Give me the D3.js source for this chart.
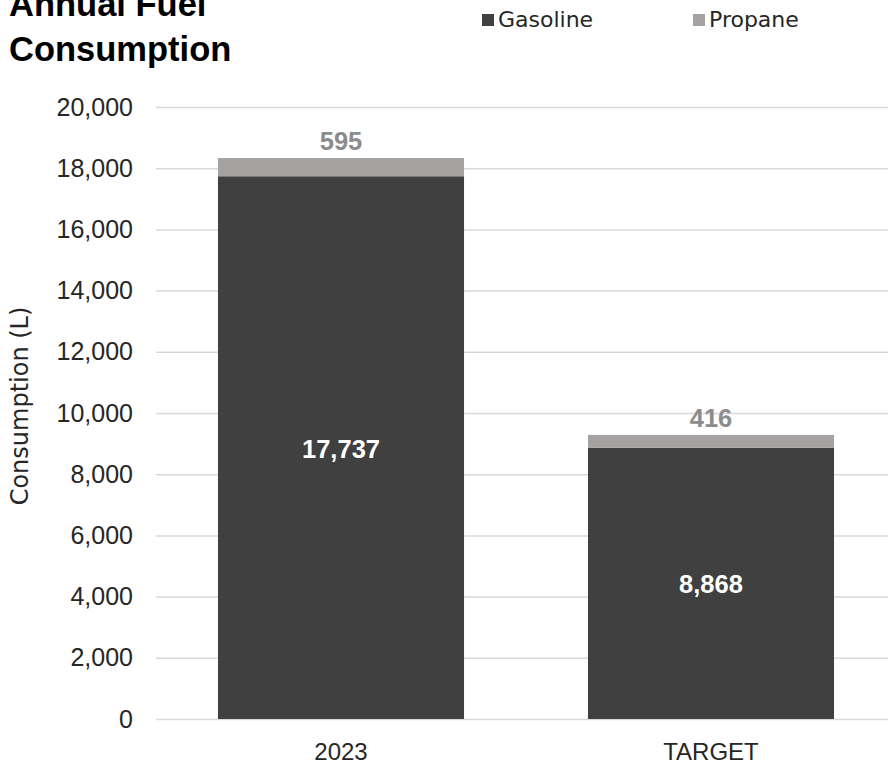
<!DOCTYPE html>
<html>
<head>
<meta charset="utf-8">
<script src="https://cdn.jsdelivr.net/npm/d3@7"></script>
<style>
  html, body { margin: 0; padding: 0; background: #fff; }
  svg { display: block; }
</style>
</head>
<body>
<svg id="chart" width="888" height="766"></svg>
<script>
// Annual fuel consumption, stacked by fuel type
const categories = ["2023", "TARGET"];
const gasoline = [17737, 8868];
const propane = [595, 416];
const seriesNames = ["Gasoline", "Propane"];
const yTicks = [0, 2000, 4000, 6000, 8000, 10000, 12000, 14000, 16000, 18000, 20000];

const colors = { Gasoline: "#404040", Propane: "#a6a2a2" };
const W = 888, H = 766;
const plot = { left: 156, right: 896, top: 107, bottom: 719 };

const svg = d3.select("#chart");

const rows = categories.map((c, i) => ({ cat: c, Gasoline: gasoline[i], Propane: propane[i] }));
const stacked = d3.stack().keys(seriesNames)(rows);

const y = d3.scaleLinear().domain([0, 20000]).range([plot.bottom, plot.top]);
const x = d3.scaleBand().domain(categories)
  .range([plot.left, plot.right])
  .paddingInner(0.335).paddingOuter(0.1675);

// Horizontal gridlines and value axis labels
const yAxis = d3.axisLeft(y).tickValues(yTicks).tickSize(0).tickPadding(0)
  .tickFormat(d3.format(","));
const gy = svg.append("g").attr("transform", `translate(${plot.left},0)`).call(yAxis);
gy.select(".domain").remove();
gy.selectAll(".tick line").attr("x1", 0).attr("x2", W - plot.left)
  .attr("stroke", "#d9d9d9").attr("stroke-width", 1.5);
gy.selectAll(".tick text")
  .attr("x", -23)
  .attr("font-family", "'Liberation Sans', Arial, sans-serif")
  .attr("font-size", 25).attr("fill", "#262626");

// Category axis labels
const gx = svg.append("g").attr("transform", `translate(0,${plot.bottom})`)
  .call(d3.axisBottom(x).tickSize(0).tickPadding(0));
gx.select(".domain").remove();
gx.selectAll(".tick text")
  .attr("y", 41).attr("dy", 0)
  .attr("font-family", "'Liberation Sans', Arial, sans-serif")
  .attr("font-size", 24).attr("fill", "#262626");

// Stacked bars
svg.append("g").selectAll("g").data(stacked).join("g")
  .attr("fill", d => colors[d.key])
  .selectAll("rect").data(d => d).join("rect")
  .attr("x", d => x(d.data.cat))
  .attr("width", x.bandwidth())
  .attr("y", d => y(d[1]))
  .attr("height", d => y(d[0]) - y(d[1]));

// Value labels
const fmt = d3.format(",");
svg.append("g").selectAll("text").data(stacked[0]).join("text")
  .attr("x", d => x(d.data.cat) + x.bandwidth() / 2)
  .attr("y", d => (y(d[0]) + y(d[1])) / 2 + 1)
  .attr("text-anchor", "middle").attr("dominant-baseline", "central")
  .attr("font-family", "'Liberation Sans', Arial, sans-serif")
  .attr("font-weight", "bold").attr("font-size", 25.5).attr("fill", "#ffffff")
  .text(d => fmt(d.data.Gasoline));

svg.append("g").selectAll("text").data(stacked[1]).join("text")
  .attr("x", d => x(d.data.cat) + x.bandwidth() / 2)
  .attr("y", d => y(d[1]) - 8)
  .attr("text-anchor", "middle")
  .attr("font-family", "'Liberation Sans', Arial, sans-serif")
  .attr("font-weight", "bold").attr("font-size", 25.5).attr("fill", "#8c8c8c")
  .text(d => fmt(d.data.Propane));

// Value axis title
svg.append("text")
  .attr("transform", "translate(28,406) rotate(-90)")
  .attr("text-anchor", "middle")
  .attr("font-family", "'DejaVu Sans', sans-serif")
  .attr("font-size", 24).attr("fill", "#262626")
  .text("Consumption (L)");

// Chart title
const title = svg.append("text")
  .attr("font-family", "'Liberation Sans', Arial, sans-serif")
  .attr("font-weight", "bold").attr("font-size", 34.5).attr("fill", "#000");
title.append("tspan").attr("x", 9).attr("y", 16).text("Annual Fuel");
title.append("tspan").attr("x", 9).attr("y", 61).text("Consumption");

// Legend
const legendX = { Gasoline: 482, Propane: 693 };
const lg = svg.append("g").selectAll("g").data(seriesNames).join("g")
  .attr("transform", d => `translate(${legendX[d]},0)`);
lg.append("rect").attr("x", 0).attr("y", 14).attr("width", 12).attr("height", 12)
  .attr("fill", d => colors[d]);
lg.append("text").attr("x", 16).attr("y", 26.5)
  .attr("font-family", "'DejaVu Sans', sans-serif")
  .attr("font-size", 22).attr("fill", "#262626")
  .text(d => d);
</script>
</body>
</html>
